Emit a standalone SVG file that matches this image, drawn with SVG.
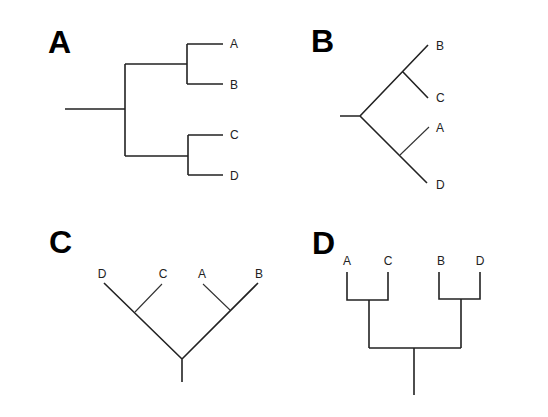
<svg xmlns="http://www.w3.org/2000/svg" width="548" height="417" viewBox="0 0 548 417">
<style>
.big{font-family:"Liberation Sans",Arial,sans-serif;font-weight:bold;font-size:32px;fill:#000}
.lab{font-family:"Liberation Sans",Arial,sans-serif;font-size:12px;fill:#222}
.e{stroke:#222;stroke-width:1.6;fill:none;stroke-linecap:butt}
.t{stroke:#333;stroke-width:1.1;fill:none}
</style>
<rect width="548" height="417" fill="#fff"/>
<g id="panelA">
<text class="big" x="48" y="53">A</text>
<text class="lab" x="230" y="48">A</text>
<text class="lab" x="230" y="89">B</text>
<text class="lab" x="230" y="139">C</text>
<text class="lab" x="230" y="180">D</text>
</g>
<g id="panelB">
<text class="big" x="311" y="52">B</text>
<text class="lab" x="436" y="50">B</text>
<text class="lab" x="436" y="102">C</text>
<text class="lab" x="436" y="132">A</text>
<text class="lab" x="436" y="189">D</text>
</g>
<g id="panelC">
<text class="big" x="49" y="253">C</text>
<text class="lab" x="102" y="278" text-anchor="middle">D</text>
<text class="lab" x="163" y="278" text-anchor="middle">C</text>
<text class="lab" x="202" y="278" text-anchor="middle">A</text>
<text class="lab" x="259" y="278" text-anchor="middle">B</text>
</g>
<g id="panelD">
<text class="big" x="312" y="254">D</text>
<text class="lab" x="347" y="265" text-anchor="middle">A</text>
<text class="lab" x="388" y="265" text-anchor="middle">C</text>
<text class="lab" x="441" y="265" text-anchor="middle">B</text>
<text class="lab" x="480" y="265" text-anchor="middle">D</text>
</g>
<g id="connectors">
<path class="e" d="M65 109H125M125 64V156M125 64H187M187 44V84M187 44H223M187 84H223M125 156H188M188 135V175M188 135H223M188 175H223"/>
<path class="e" d="M340 116H360M360 116L428 45M403 72L428 98M360 116L427 183"/>
<path class="t" d="M400 155L429 127"/>
<path class="e" d="M182 382V359M182 359L104 283M182 359L258 283"/>
<path class="t" d="M135 312L162 284M230 310L203 284"/>
<path class="e" d="M347 272V300H388V272M369 300V348M439 272V299H480V272M461 299V348M369 348H461M414 348V395"/>
</g>
</svg>
